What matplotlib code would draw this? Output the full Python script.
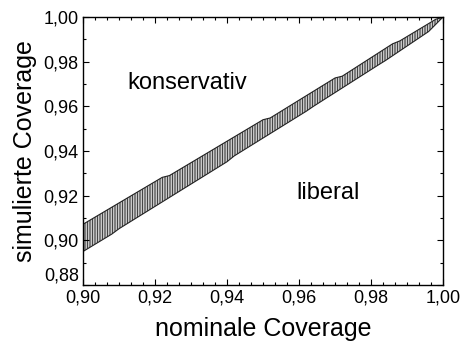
import matplotlib
matplotlib.use("Agg")
import matplotlib.pyplot as plt
from matplotlib.ticker import MultipleLocator, FuncFormatter
import numpy as np

plt.rcParams['font.family'] = ['Liberation Sans', 'DejaVu Sans']
plt.rcParams['hatch.linewidth'] = 0.6
plt.rcParams['hatch.color'] = '#333333'

# upper boundary of the band
upper_x = [0.900, 0.922, 0.924, 0.950, 0.952, 0.970, 0.972, 0.986, 0.988, 0.998, 1.000]
upper_y = [0.9072, 0.9282, 0.9290, 0.9540, 0.9548, 0.9727, 0.9735, 0.9880, 0.9893, 0.9990, 1.000]
# lower boundary of the band
lower_x = [0.900, 0.908, 0.910, 0.940, 0.942, 0.962, 0.964, 0.982, 0.984, 0.996, 1.000]
lower_y = [0.8950, 0.9028, 0.9052, 0.9352, 0.9378, 0.9578, 0.9600, 0.9785, 0.9805, 0.9935, 1.000]

xs = np.union1d(upper_x, lower_x)
up = np.interp(xs, upper_x, upper_y)
lo = np.interp(xs, lower_x, lower_y)

fig = plt.figure(figsize=(4.62, 3.43), dpi=100)
ax = fig.add_axes([0.1797, 0.1691, 0.9589 - 0.1797, 0.9504 - 0.1691])

ax.fill_between(xs, lo, up, facecolor='white', edgecolor='#222222',
                hatch='||||||||||', linewidth=0.8)

ax.set_xlim(0.90, 1.00)
ax.set_ylim(0.88, 1.00)
ax.xaxis.set_major_locator(MultipleLocator(0.02))
ax.xaxis.set_minor_locator(MultipleLocator(0.02 / 6))
ax.yaxis.set_major_locator(MultipleLocator(0.02))
ax.yaxis.set_minor_locator(MultipleLocator(0.01))
fmt = FuncFormatter(lambda v, p: f"{v:.2f}".replace('.', ','))
ax.xaxis.set_major_formatter(fmt)
ax.yaxis.set_major_formatter(fmt)
ax.tick_params(which='both', direction='in', top=True, right=True, labelsize=13, width=0.8)
ax.tick_params(which='major', length=4, pad=3)
ax.tick_params(which='minor', length=2.5)
for s in ax.spines.values():
    s.set_linewidth(1.0)

fig.canvas.draw()
for lab in ax.get_yticklabels():
    if lab.get_text() == '0,88':
        lab.set_verticalalignment('bottom')

ax.set_xlabel('nominale Coverage', fontsize=18, labelpad=8)
ax.set_ylabel('simulierte Coverage', fontsize=18, labelpad=5)

ax.text(0.9289, 0.9706, 'konservativ', fontsize=17, ha='center', va='center')
ax.text(0.968, 0.921, 'liberal', fontsize=17, ha='center', va='center')

fig.savefig('out.png', dpi=100)
